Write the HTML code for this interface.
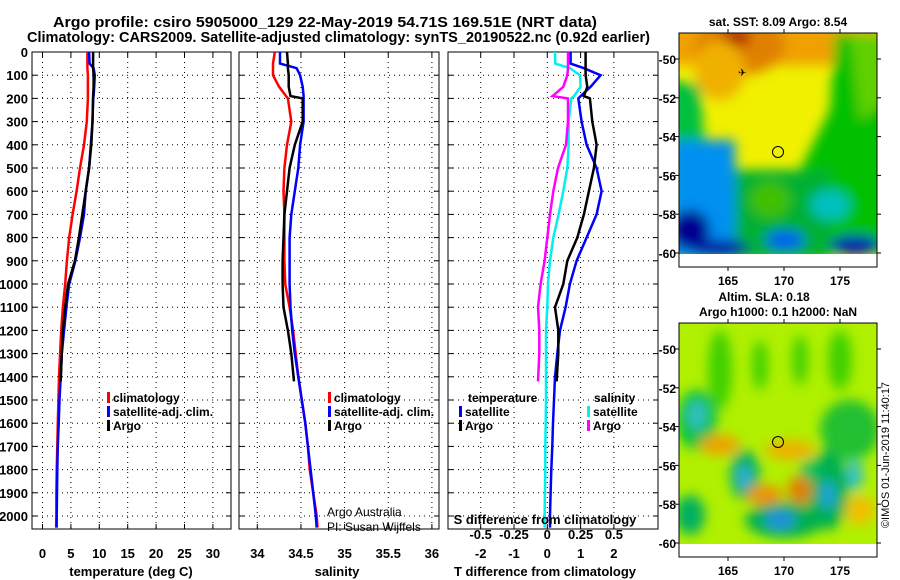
<!DOCTYPE html>
<html><head><meta charset="utf-8"><style>
html,body{margin:0;padding:0;background:#fff}
svg{display:block;font-family:"Liberation Sans",sans-serif}
</style></head><body>
<svg id="fig" width="900" height="580" viewBox="0 0 900 580" xmlns="http://www.w3.org/2000/svg">
<defs>
<clipPath id="c1"><rect x="32" y="52" width="199" height="477"/></clipPath>
<clipPath id="c2"><rect x="239" y="52" width="200" height="477"/></clipPath>
<clipPath id="c3"><rect x="448" y="52" width="210" height="477"/></clipPath>
<clipPath id="m1"><rect x="679" y="33" width="198" height="221"/></clipPath>
<clipPath id="m2"><rect x="679" y="323" width="198" height="221"/></clipPath>
<filter id="bl" x="-50%" y="-50%" width="200%" height="200%"><feGaussianBlur stdDeviation="6"/></filter>
</defs>
<text x="53" y="27" font-size="15" font-weight="bold" textLength="544" lengthAdjust="spacingAndGlyphs">Argo profile: csiro 5905000_129 22-May-2019 54.71S 169.51E (NRT data)</text>
<text x="27" y="42" font-size="15" font-weight="bold" textLength="623" lengthAdjust="spacingAndGlyphs">Climatology: CARS2009. Satellite-adjusted climatology: synTS_20190522.nc (0.92d earlier)</text>
<g id="panels"></g>

<!-- SST map -->
<g>
<g clip-path="url(#m1)">
<rect x="679" y="33" width="198" height="221" fill="#f0f000"/>
<g filter="url(#bl)">
<rect x="670" y="25" width="215" height="40" fill="#f0a000"/>
<ellipse cx="740" cy="45" rx="45" ry="30" fill="#e08000"/>
<ellipse cx="735" cy="38" rx="15" ry="10" fill="#b02000"/>
<ellipse cx="720" cy="70" rx="25" ry="30" fill="#f0b000"/>
<polygon points="835,33 890,33 890,254 800,254 800,170 830,110" fill="#00c000"/>
<polygon points="850,33 890,33 890,100 860,120" fill="#60d000"/>
<polygon points="670,170 830,170 830,260 670,260" fill="#00b030"/>
<polygon points="670,80 700,85 705,150 670,160" fill="#00c040"/>
<polygon points="670,140 735,140 735,260 670,260" fill="#0090f0"/>
<ellipse cx="690" cy="230" rx="20" ry="20" fill="#000090"/>
<ellipse cx="720" cy="248" rx="30" ry="8" fill="#0010a0"/>
<ellipse cx="855" cy="245" rx="25" ry="10" fill="#0020b0"/>
<ellipse cx="830" cy="205" rx="20" ry="15" fill="#00c0c0"/>
<ellipse cx="785" cy="240" rx="20" ry="10" fill="#0060f0"/>
<ellipse cx="770" cy="200" rx="20" ry="18" fill="#40c000"/>
</g>
</g>
<rect x="679" y="254" width="198" height="13" fill="#fff"/>
<rect x="679" y="33" width="198" height="234" fill="none" stroke="#000"/>
<circle cx="778" cy="152" r="5.5" fill="none" stroke="#000"/>
<text x="738" y="76" font-size="10">✈</text>
<text x="778" y="26" font-size="12" font-weight="bold" text-anchor="middle">sat. SST: 8.09 Argo: 8.54</text>
<g id="m1ticks" font-size="12" font-weight="bold"></g>
</g>

<!-- SLA map -->
<g>
<g clip-path="url(#m2)">
<rect x="679" y="323" width="198" height="221" fill="#b0f000"/>
<g filter="url(#bl)">
<ellipse cx="720" cy="370" rx="12" ry="40" fill="#40d000"/>
<ellipse cx="760" cy="365" rx="8" ry="25" fill="#40d000"/>
<ellipse cx="800" cy="360" rx="8" ry="25" fill="#40d000"/>
<ellipse cx="840" cy="360" rx="12" ry="30" fill="#40d000"/>
<ellipse cx="697" cy="420" rx="20" ry="30" fill="#00c040"/>
<ellipse cx="697" cy="415" rx="10" ry="15" fill="#30c0c0"/>
<ellipse cx="850" cy="430" rx="30" ry="30" fill="#20c030"/>
<ellipse cx="720" cy="445" rx="20" ry="10" fill="#f0a000"/>
<ellipse cx="790" cy="450" rx="25" ry="10" fill="#f0b000"/>
<ellipse cx="745" cy="475" rx="15" ry="25" fill="#00b060"/>
<ellipse cx="744" cy="477" rx="7" ry="12" fill="#30b0e0"/>
<ellipse cx="828" cy="490" rx="20" ry="40" fill="#00b050"/>
<ellipse cx="828" cy="495" rx="7" ry="15" fill="#20a0e0"/>
<ellipse cx="855" cy="475" rx="8" ry="15" fill="#30c0d0"/>
<ellipse cx="765" cy="495" rx="18" ry="10" fill="#f09000"/>
<ellipse cx="800" cy="490" rx="12" ry="15" fill="#e08000"/>
<ellipse cx="785" cy="520" rx="40" ry="18" fill="#00b050"/>
<ellipse cx="780" cy="520" rx="15" ry="10" fill="#2090e0"/>
<ellipse cx="690" cy="515" rx="15" ry="20" fill="#00b060"/>
<ellipse cx="860" cy="510" rx="15" ry="15" fill="#f0c000"/>
<ellipse cx="810" cy="470" rx="10" ry="10" fill="#00c060"/>
</g>
</g>
<rect x="679" y="544" width="198" height="13" fill="#fff"/>
<rect x="679" y="323" width="198" height="234" fill="none" stroke="#000"/>
<circle cx="778" cy="442" r="5.5" fill="none" stroke="#000"/>
<text x="764" y="301" font-size="12" font-weight="bold" text-anchor="middle">Altim. SLA: 0.18</text>
<text x="778" y="316" font-size="12" font-weight="bold" text-anchor="middle">Argo h1000: 0.1 h2000: NaN</text>
<g id="m2ticks" font-size="12" font-weight="bold"></g>
<text transform="translate(889,455) rotate(-90)" font-size="11" text-anchor="middle">©IMOS 01-Jun-2019 11:40:17</text>
</g>
</svg>
<script>
// ---- data ----
const depths = [0,50,70,100,150,190,200,300,400,500,600,700,800,900,1000,1100,1200,1300,1400,1500,1600,1700,1800,1900,2000,2050];
const argoDepths = [0,50,70,100,150,190,200,300,400,500,600,700,800,900,1000,1100,1200,1300,1420];
const tempClim = [7.9,7.9,7.9,8.0,8.0,8.0,8.0,7.8,7.3,6.6,6.0,5.3,4.7,4.3,4.0,3.6,3.3,3.1,2.9,2.8,2.7,2.6,2.5,2.45,2.45,2.4];
const tempSat  = [8.2,8.3,9.0,9.2,9.1,9.0,8.9,8.8,8.5,8.2,7.6,7.3,6.6,5.8,4.7,4.2,3.8,3.4,3.2,3.0,2.85,2.7,2.6,2.55,2.5,2.5];
const tempArgo = [8.9,8.9,8.9,9.0,9.0,8.9,8.9,8.8,8.6,8.2,7.6,7.0,6.4,5.7,4.5,4.0,3.6,3.4,3.2];
const salClim = [34.2,34.18,34.18,34.18,34.25,34.33,34.35,34.39,34.34,34.31,34.3,34.31,34.31,34.31,34.32,34.37,34.41,34.44,34.47,34.51,34.55,34.58,34.6,34.64,34.68,34.69];
const salSat  = [34.26,34.26,34.45,34.49,34.52,34.53,34.53,34.53,34.49,34.47,34.43,34.39,34.37,34.37,34.37,34.38,34.4,34.43,34.47,34.51,34.55,34.58,34.61,34.64,34.67,34.68];
const salArgo = [34.34,34.35,34.35,34.36,34.36,34.38,34.52,34.52,34.43,34.37,34.34,34.31,34.3,34.29,34.29,34.3,34.35,34.39,34.42];
const dTsat  = [0.7,0.7,1.1,1.6,1.3,1.0,0.93,1.03,1.18,1.48,1.63,1.48,1.18,0.88,0.68,0.55,0.38,0.3,0.23,0.2,0.17,0.15,0.12,0.1,0.08,0.08];
const dTargo = [1.15,1.15,1.15,1.15,1.2,1.1,1.28,1.35,1.48,1.4,1.25,1.1,0.9,0.6,0.48,0.23,0.33,0.33,0.28];
const dSsat  = [0.058,0.06,0.17,0.245,0.25,0.2,0.18,0.16,0.16,0.15,0.12,0.085,0.045,0.02,0.005,0,-0.01,-0.01,-0.01,-0.01,-0.012,-0.015,-0.015,-0.018,-0.02,-0.02];
const dSargo = [0.155,0.155,0.155,0.15,0.12,0.04,0.155,0.155,0.14,0.08,0.045,0.02,0,-0.02,-0.05,-0.07,-0.06,-0.06,-0.07];
const depthTicks = [0,100,200,300,400,500,600,700,800,900,1000,1100,1200,1300,1400,1500,1600,1700,1800,1900,2000];
const tTicks = [0,5,10,15,20,25,30];
const sTicks = [34,34.5,35,35.5,36];
const dTTicks = [-2,-1,0,1,2];
const dSTicks = [-0.5,-0.25,0,0.25,0.5];
const dSTickLabels = ["-0.5","-0.25","0","0.25","0.5"];
const lonTicks = [165,170,175];
const latTicks = [-50,-52,-54,-56,-58,-60];

// ---- scales ----
const Y0=52, YTOP=52, YBOT=529;
const yD = d => Y0 + d*0.232;
const xT = v => 42.5 + v*5.68;
const xS = v => 257.3 + (v-34)*87.3;
const xDT = v => 547.3 + v*33.3;
const xDS = v => 547.3 + v*133.3;
const lonX = v => 728 + (v-165)*11.2;
const lat1 = v => 59 + (-50 - v)*19.4;
const lat2 = v => 349 + (-50 - v)*19.4;

const NS='http://www.w3.org/2000/svg';
const root=document.getElementById('panels');
function mk(tag,attrs,parent){const e=document.createElementNS(NS,tag);for(const k in attrs)e.setAttribute(k,attrs[k]);(parent||root).appendChild(e);return e;}
function txt(s,attrs,parent){const e=mk('text',attrs,parent);e.textContent=s;return e;}

function panel(id,x0,x1,xt,xf,showLabels){
  const g=mk('g',{});
  
  
  depthTicks.forEach(d=>{
    const y=yD(d);
    mk('line',{x1:x0,x2:x1,y1:y,y2:y,stroke:'#000','stroke-dasharray':'1,4','stroke-width':1},g);
    mk('line',{x1:x0,x2:x0+5,y1:y,y2:y,stroke:'#000'},g);
    mk('line',{x1:x1-5,x2:x1,y1:y,y2:y,stroke:'#000'},g);
    if(showLabels){const t=txt(String(d),{x:x0-4,y:y+5,'font-size':13,'font-weight':'bold','text-anchor':'end'},g);
      
      }
  });
  xt.forEach(v=>{
    const x=xf(v);
    mk('line',{x1:x,x2:x,y1:YTOP,y2:YBOT,stroke:'#000','stroke-dasharray':'1,4'},g);
    mk('line',{x1:x,x2:x,y1:YBOT-5,y2:YBOT,stroke:'#000'},g);
    mk('line',{x1:x,x2:x,y1:YTOP,y2:YTOP+5,stroke:'#000'},g);
  });
  mk('rect',{x:x0,y:YTOP,width:x1-x0,height:YBOT-YTOP,fill:'none',stroke:'#000','stroke-width':1},g);
  return g;
}
function line(g,xs,ds,xf,color,name){
  const pts=xs.map((v,i)=>xf(v).toFixed(1)+','+yD(ds[i]).toFixed(1)).join(' ');
  const p=mk('polyline',{points:pts,fill:'none',stroke:color,'stroke-width':2.5,'clip-path':'url(#'+name.clip+')'},g);
  
  
}
function xlabels(g,ticks,labels,xf,y){
  ticks.forEach((v,i)=>{const t=txt(labels?labels[i]:String(v),{x:xf(v),y:y,'font-size':13,'font-weight':'bold','text-anchor':'middle'},g);
    
    });
}
function legend(g,x,y,color,label){
  mk('rect',{x:x,y:y-10,width:3,height:11,fill:color},g);
  const t=txt(label,{x:x+6,y:y,'font-size':12,'font-weight':'bold'},g);
  
  
}

// panel 1 temperature
const g1=panel('temperature-panel',32,231,tTicks,xT,true);
line(g1,tempClim,depths,xT,'#ff0000',{clip:'c1',n:'temp-climatology-line'});
line(g1,tempSat,depths,xT,'#0000ff',{clip:'c1',n:'temp-satellite-line'});
line(g1,tempArgo,argoDepths,xT,'#000000',{clip:'c1',n:'temp-argo-line'});
xlabels(g1,tTicks,null,xT,558);
txt('temperature (deg C)',{x:131,y:576,'font-size':13,'font-weight':'bold','text-anchor':'middle'},g1);
legend(g1,107,402,'#ff0000','climatology');
legend(g1,107,416,'#0000ff','satellite-adj. clim.');
legend(g1,107,430,'#000000','Argo');

// panel 2 salinity
const g2=panel('salinity-panel',239,439,sTicks,xS,false);
line(g2,salClim,depths,xS,'#ff0000',{clip:'c2',n:'sal-climatology-line'});
line(g2,salSat,depths,xS,'#0000ff',{clip:'c2',n:'sal-satellite-line'});
line(g2,salArgo,argoDepths,xS,'#000000',{clip:'c2',n:'sal-argo-line'});
xlabels(g2,sTicks,null,xS,558);
txt('salinity',{x:337,y:576,'font-size':13,'font-weight':'bold','text-anchor':'middle'},g2);
legend(g2,328,402,'#ff0000','climatology');
legend(g2,328,416,'#0000ff','satellite-adj. clim.');
legend(g2,328,430,'#000000','Argo');
txt('Argo Australia',{x:327,y:516,'font-size':12},g2);
txt('PI: Susan Wijffels',{x:327,y:531,'font-size':12},g2);

// panel 3 differences
const g3=panel('difference-panel',448,658,dTTicks,xDT,false);
line(g3,dSsat,depths,xDS,'#00f0f0',{clip:'c3',n:'dsal-satellite-line'});
line(g3,dSargo,argoDepths,xDS,'#ff00ff',{clip:'c3',n:'dsal-argo-line'});
line(g3,dTsat,depths,xDT,'#0000ff',{clip:'c3',n:'dtemp-satellite-line'});
line(g3,dTargo,argoDepths,xDT,'#000000',{clip:'c3',n:'dtemp-argo-line'});
xlabels(g3,dTTicks,null,xDT,558);
txt('T difference from climatology',{x:545,y:576,'font-size':13,'font-weight':'bold','text-anchor':'middle'},g3);
txt('S difference from climatology',{x:545,y:524,'font-size':13,'font-weight':'bold','text-anchor':'middle'},g3);
xlabels(g3,dSTicks,dSTickLabels,xDS,539);
txt('temperature',{x:468,y:402,'font-size':12,'font-weight':'bold'},g3);
legend(g3,459,416,'#0000ff','satellite');
legend(g3,459,430,'#000000','Argo');
txt('salinity',{x:594,y:402,'font-size':12,'font-weight':'bold'},g3);
legend(g3,587,416,'#00f0f0','satellite');
legend(g3,587,430,'#ff00ff','Argo');

// map ticks
function mapTicks(id,latf,top,bot){
  const g=document.getElementById(id);
  lonTicks.forEach(v=>{const x=lonX(v);
    mk('line',{x1:x,x2:x,y1:top,y2:top-4,stroke:'#000'},g);
    mk('line',{x1:x,x2:x,y1:bot,y2:bot+4,stroke:'#000'},g);
    const t=txt(String(v),{x:x,y:bot+18,'text-anchor':'middle'},g);
    
    });
  latTicks.forEach(v=>{const y=latf(v);
    mk('line',{x1:679,x2:675,y1:y,y2:y,stroke:'#000'},g);
    mk('line',{x1:877,x2:881,y1:y,y2:y,stroke:'#000'},g);
    const t=txt(String(v),{x:676,y:y+5,'text-anchor':'end'},g);
    
    });
}
mapTicks('m1ticks',lat1,33,267);
mapTicks('m2ticks',lat2,323,557);
</script>
</body></html>
